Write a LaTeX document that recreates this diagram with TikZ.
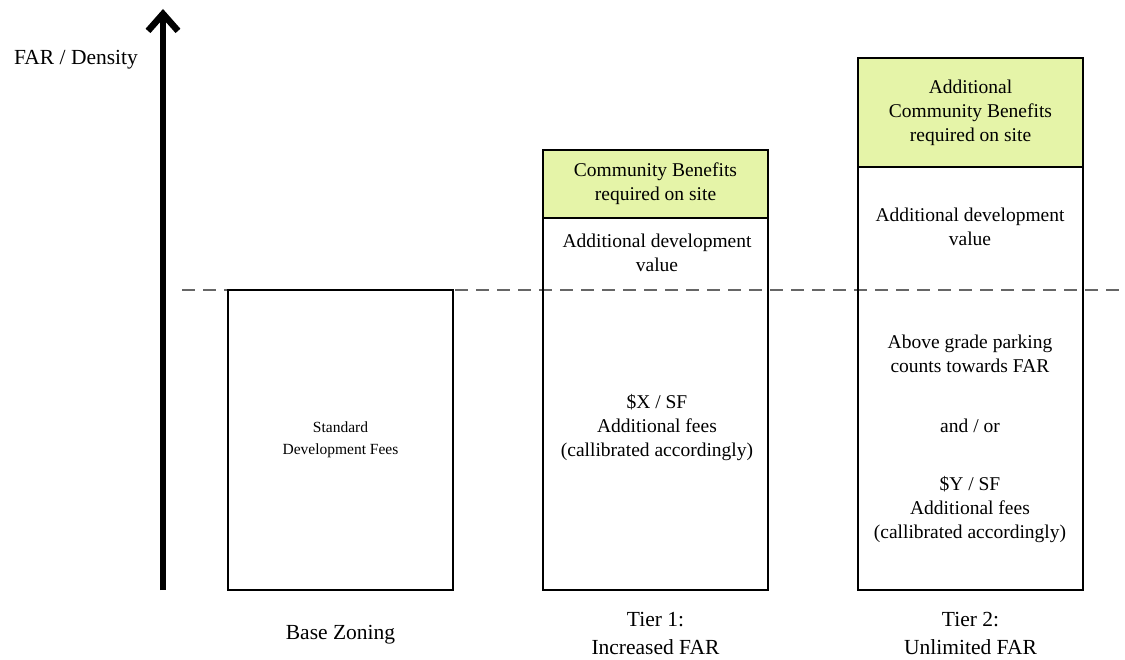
\documentclass[tikz,border=0pt]{standalone}
\usepackage{fontspec}
\setmainfont{Liberation Serif}
\usetikzlibrary{arrows.meta}

\definecolor{benefitgreen}{RGB}{229,244,168}

\tikzset{
  tierbox/.style={draw=black, line width=2pt, minimum width=225pt, inner sep=0pt},
  benefit/.style={tierbox, fill=benefitgreen},
  body/.style={align=center, font=\fontsize{19.5}{24}\selectfont},
  caption/.style={align=center, font=\fontsize{21.5}{28}\selectfont}
}

\begin{document}
\begin{tikzpicture}[x=1pt, y=-1pt]
        \useasboundingbox (0,0) rectangle (1125,660);

        % Axis
        \coordinate (origin) at (163,590);
        \coordinate (top) at (163,9);
        \draw[line width=6pt, -{Straight Barb[length=17pt, width=30pt, line width=6.5pt]}] (origin) -- (top);
        \node[caption] (axislabel) at (76,60) {FAR / Density};

        % Base density level
        \coordinate (basestart) at (182,290);
        \coordinate (baseend) at (1127,290);
        \draw[gray!80!black, line width=1.3pt, dash pattern=on 13pt off 8pt] (basestart) -- (baseend);

        % Base zoning
        \node[tierbox, minimum height=300pt, align=center, font=\fontsize{15.5}{22}\selectfont] (base) at (340.5,440) {Standard\\Development Fees};
        \node[caption] (baselabel) at (340.5,635) {Base Zoning};

        % Tier 1
        \node[benefit, minimum height=68pt] (benefitA) at (655.5,184) {};
        \node[body] at (benefitA) {Community Benefits\\required on site};
        \node[tierbox, minimum height=372pt] (tierA) at (655.5,404) {};
        \node[body] (valueA) at (657,253) {Additional development\\value};
        \node[body] (feesA) at (657,428) {\$X / SF\\Additional fees\\(callibrated accordingly)};
        \node[caption] (labelA) at (655.5,633) {Tier 1:\\Increased FAR};

        % Tier 2
        \node[benefit, minimum height=109pt] (benefitB) at (970.5,112.5) {};
        \node[body] at (benefitB) {Additional\\Community Benefits\\required on site};
        \node[tierbox, minimum height=423pt] (tierB) at (970.5,378.5) {};
        \node[body] (valueB) at (970,227) {Additional development\\value};
        \node[body] (parkingB) at (970,354) {Above grade parking\\counts towards FAR};
        \node[body] (orB) at (970,426) {and / or};
        \node[body] (feesB) at (970,510) {\$Y / SF\\Additional fees\\(callibrated accordingly)};
        \node[caption] (labelB) at (970.5,633) {Tier 2:\\Unlimited FAR};

\end{tikzpicture}
\end{document}
